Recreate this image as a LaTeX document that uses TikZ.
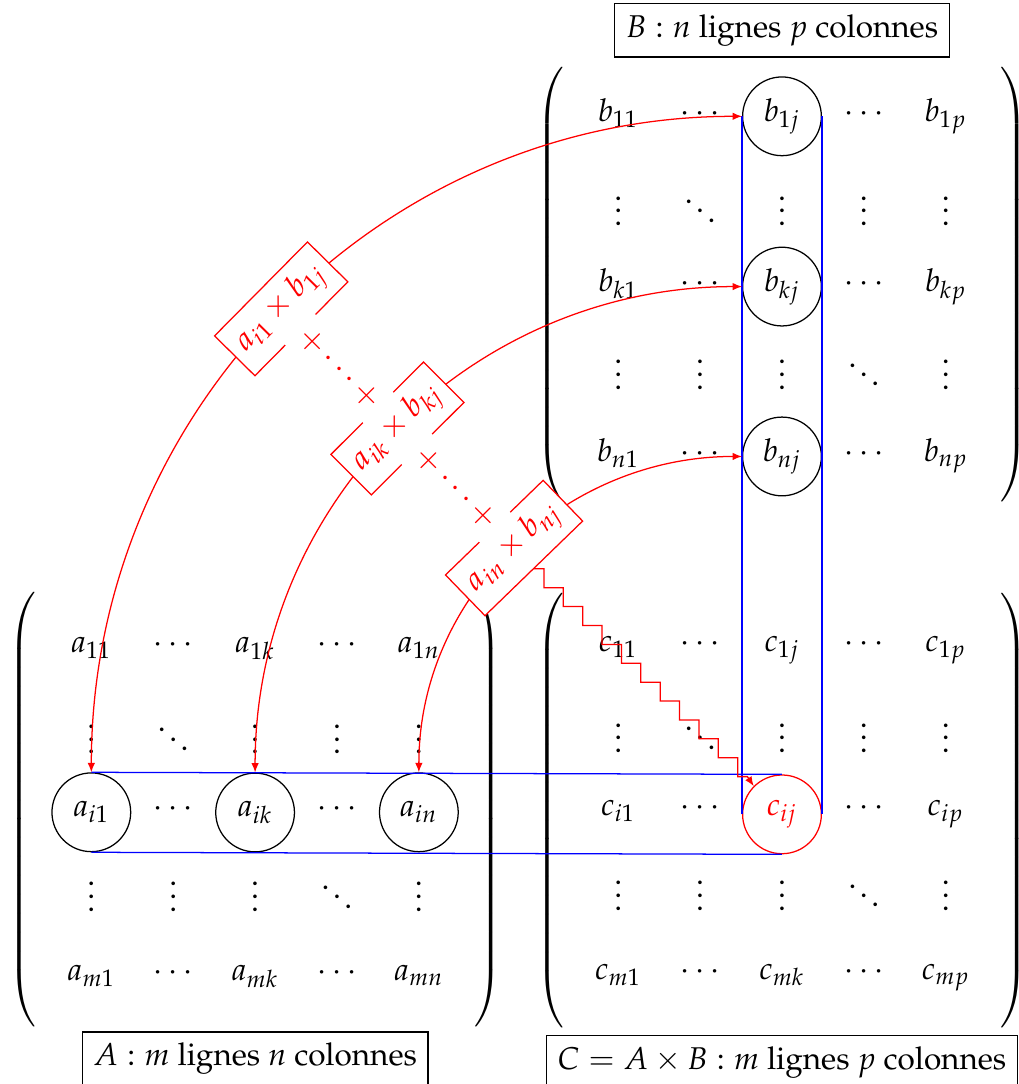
\documentclass[tikz,border=0pt]{standalone}
\usepackage[T1]{fontenc}
\usepackage{mathpazo}
\usepackage{tikz}
\usetikzlibrary{arrows.meta,positioning,calc,matrix}
\tikzset{
  cell/.style={circle,minimum size=25pt,inner sep=0pt},
  circ/.style={draw},
  mat/.style={matrix of math nodes,nodes={cell},
              column sep={26pt,between origins},
              row sep={26pt,between origins},
              row 2/.style={nodes={yshift=-6pt}},
              row 4/.style={nodes={yshift=-4pt}},
              left delimiter=(,right delimiter=)},
  caption/.style={draw,inner sep=3.5pt},
  prod/.style={sloped,draw=red,fill=white,text=red},
  plus/.style={fill=white,text=red,rotate=-45},
  mularrow/.style={{Latex[length=3pt,width=2.4pt]}-{Latex[length=3pt,width=2.4pt]},red},
  stair/.style={-{Latex[length=3pt,width=2.4pt]},red},
  guide/.style={blue},
}

\begin{document}
\begin{tikzpicture}
  \useasboundingbox (-81pt,-86.7pt) rectangle (242.5pt,257.5pt);
  % the three matrices
  \matrix (A) [mat] at (0,0) {
    a_{11} & \cdots & a_{1k} & \cdots & a_{1n} \\
    \vdots & \ddots & \vdots & \vdots & \vdots \\
    |[circ]| a_{i1} & \cdots & |[circ]| a_{ik} & \cdots & |[circ]| a_{in} \\
    \vdots & \vdots & \vdots & \ddots & \vdots \\
    a_{m1} & \cdots & a_{mk} & \cdots & a_{mn} \\
  };
  \matrix (B) [mat,row sep={27pt,between origins}] at (167.3pt,167pt) {
    b_{11} & \cdots & |[circ]| b_{1j} & \cdots & b_{1p} \\
    \vdots & \ddots & \vdots & \vdots & \vdots \\
    b_{k1} & \cdots & |[circ]| b_{kj} & \cdots & b_{kp} \\
    \vdots & \vdots & \vdots & \ddots & \vdots \\
    b_{n1} & \cdots & |[circ]| b_{nj} & \cdots & b_{np} \\
  };
  \matrix (C) [mat] at (167.3pt,0) {
    c_{11} & \cdots & c_{1j} & \cdots & c_{1p} \\
    \vdots & \ddots & \vdots & \vdots & \vdots \\
    c_{i1} & \cdots & |[circ,red]| c_{ij} & \cdots & c_{ip} \\
    \vdots & \vdots & \vdots & \ddots & \vdots \\
    c_{m1} & \cdots & c_{mk} & \cdots & c_{mp} \\
  };
  \node[caption,below=1.5pt of A] (capA) {$A : m$ lignes $n$ colonnes};
  \node[caption,above=1.5pt of B] (capB) {$B : n$ lignes $p$ colonnes};
  \node[caption,below=2.2pt of C] (capC) {$C=A\times B : m$ lignes $p$ colonnes};
  % row of A and column of B
  \draw[guide] (A-3-1.north) -- (C-3-3.north);
  \draw[guide] (A-3-1.south) -- (C-3-3.south);
  \draw[guide] (B-1-3.west) -- (C-3-3.west);
  \draw[guide] (B-1-3.east) -- (C-3-3.east);
  % products
  \draw[mularrow] (A-3-1) to[out=90,in=180] node[prod] (m1) {$a_{i1}\times b_{1j}$} (B-1-3);
  \draw[mularrow] (A-3-3) to[out=90,in=180] node[prod] (mk) {$a_{ik}\times b_{kj}$} (B-3-3);
  \draw[mularrow] (A-3-5) to[out=90,in=180] node[prod] (mn) {$a_{in}\times b_{nj}$} (B-5-3);
  \node[plus] (s1) at ($(m1)!.5!(mk)$) {$+\cdots+$};
  \node[plus] (s2) at ($(mk)!.5!(mn)$) {$+\cdots+$};
  \draw[stair] let \p1=(mn.south), \p2=($(C-3-3.north west)+(-2pt,3pt)$) in
    (\p1) \foreach \k in {1,...,11}{ -| ({\x1+(\k-.5)*(\x2-\x1)/11},{\y1+\k*(\y2-\y1)/11}) }
    -- (\p2) -- (C-3-3.north west);
\end{tikzpicture}
\end{document}
